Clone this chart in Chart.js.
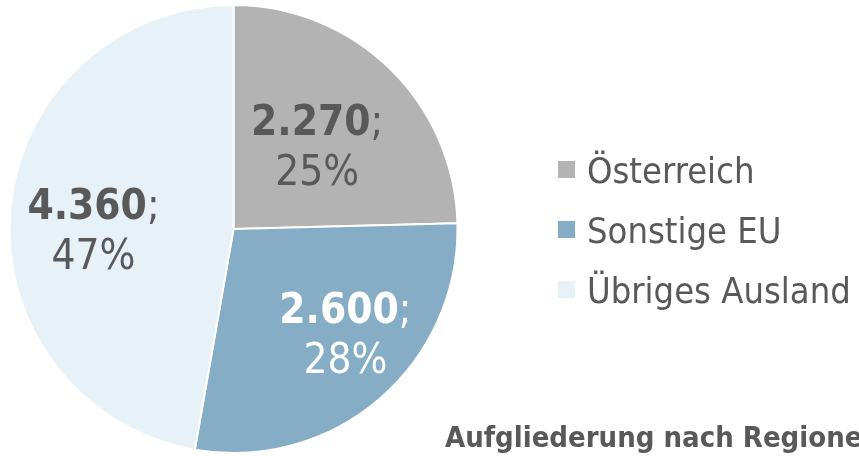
<!DOCTYPE html>
<html lang="de">
<head>
  <meta charset="UTF-8" />
  <title>Aufgliederung nach Regionen</title>
  <script src="https://cdn.jsdelivr.net/npm/chart.js"></script>
  <style>
    body {
      margin: 0;
      background-color: #ffffff;
    }

    .chart-box {
      position: relative;
      width: 859px;
      height: 456px;
    }
  </style>
</head>
<body>
  <div class="chart-box">
    <canvas id="regionChart"></canvas>
  </div>

  <script>
    const categories = ['Österreich', 'Sonstige EU', 'Übriges Ausland'];
    const values = [2270, 2600, 4360];
    const chartTitle = 'Aufgliederung nach Regionen';

    const sliceColors = ['#b3b3b3', '#85adc5', '#e6f1f8'];
    const labelColors = ['#595959', '#ffffff', '#595959'];
    const textColor = '#595959';
    const fontFamily = "'DejaVu Sans Condensed', 'DejaVu Sans', sans-serif";

    function formatNumber(v) {
      return String(v).replace(/\B(?=(\d{3})+(?!\d))/g, '.');
    }

    // value labels, legend and title are drawn on the canvas after the pie
    const decorations = {
      id: 'decorations',
      afterDraw(chart) {
        const ctx = chart.ctx;
        const meta = chart.getDatasetMeta(0);
        const total = values.reduce((a, b) => a + b, 0);
        const radialFactor = [0.535, 0.675, 0.625];
        const angleShift = [0, -7, -4];

        ctx.save();
        ctx.textBaseline = 'alphabetic';

        meta.data.forEach((arc, i) => {
          const p = arc.getProps(['x', 'y', 'startAngle', 'endAngle', 'outerRadius'], true);
          const mid = (p.startAngle + p.endAngle) / 2 + angleShift[i] * Math.PI / 180;
          const r = p.outerRadius * radialFactor[i];
          const cx = p.x + Math.cos(mid) * r;
          const cy = p.y + Math.sin(mid) * r;

          const boldPart = formatNumber(values[i]);
          const semi = ';';
          const pct = Math.round(values[i] / total * 100) + '%';

          ctx.fillStyle = labelColors[i];
          ctx.font = 'bold 42px ' + fontFamily;
          const w1 = ctx.measureText(boldPart).width;
          ctx.font = '42px ' + fontFamily;
          const w2 = ctx.measureText(semi).width;
          const startX = cx - (w1 + w2) / 2;

          ctx.textAlign = 'left';
          ctx.font = 'bold 42px ' + fontFamily;
          ctx.fillText(boldPart, startX, cy - 8);
          ctx.font = '42px ' + fontFamily;
          ctx.fillText(semi, startX + w1, cy - 8);

          ctx.textAlign = 'center';
          ctx.fillText(pct, cx, cy + 42);
        });

        // legend
        const legendX = 558;
        const legendY = [170, 230, 290];
        ctx.textAlign = 'left';
        ctx.font = '36px ' + fontFamily;
        categories.forEach((name, i) => {
          ctx.fillStyle = sliceColors[i];
          ctx.fillRect(legendX, legendY[i] - 9, 17, 17);
          ctx.fillStyle = textColor;
          ctx.fillText(name, legendX + 29, legendY[i] + 13);
        });

        // title at the bottom right, cut by the canvas edge
        ctx.font = 'bold 29px ' + fontFamily;
        ctx.fillStyle = textColor;
        ctx.fillText(chartTitle, 445, 447);

        ctx.restore();
      }
    };

    new Chart(document.getElementById('regionChart').getContext('2d'), {
      type: 'pie',
      data: {
        labels: categories,
        datasets: [{
          data: values,
          backgroundColor: sliceColors,
          borderColor: '#ffffff',
          borderWidth: 2
        }]
      },
      options: {
        responsive: true,
        maintainAspectRatio: false,
        animation: false,
        layout: {
          padding: { left: 8, top: 4, right: 400, bottom: 2 }
        },
        plugins: {
          legend: { display: false },
          tooltip: { enabled: false }
        }
      },
      plugins: [decorations]
    });
  </script>
</body>
</html>
